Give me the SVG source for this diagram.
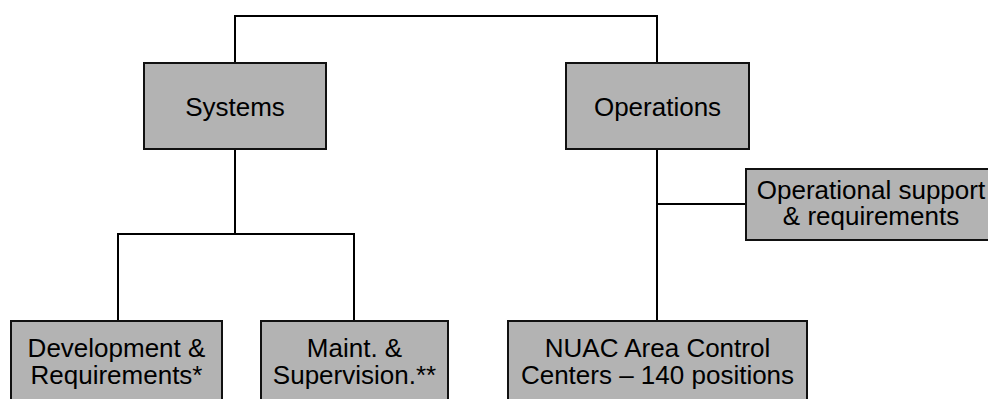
<svg xmlns="http://www.w3.org/2000/svg" width="988" height="399" viewBox="0 0 988 399">
  <style>
    .box { fill: #b3b3b3; stroke: #111111; stroke-width: 2; }
    .lbl { font-family: "Liberation Sans", Arial, sans-serif; font-size: 26px; fill: #000000; text-anchor: middle; }
    .wire { fill: none; stroke: #000000; stroke-width: 2; }
  </style>
  <rect width="988" height="399" fill="#ffffff"/>

  <!-- connectors -->
  <g id="connectors">
    <polyline class="wire" points="235,63 235,16 657,16 657,63"/>
    <line class="wire" x1="235" y1="149" x2="235" y2="234"/>
    <polyline class="wire" points="118,321 118,234 354,234 354,321"/>
    <line class="wire" x1="657" y1="149" x2="657" y2="321"/>
    <line class="wire" x1="657" y1="204" x2="746" y2="204"/>
  </g>

  <g id="systems">
    <rect class="box" x="144" y="63" width="182" height="86"/>
    <text class="lbl" x="235" y="116">Systems</text>
  </g>

  <g id="operations">
    <rect class="box" x="566" y="63" width="183" height="86"/>
    <text class="lbl" x="657.5" y="116">Operations</text>
  </g>

  <g id="operational-support">
    <rect class="box" x="746" y="169" width="252" height="71"/>
    <text class="lbl" x="871" y="199">Operational support</text>
    <text class="lbl" x="871" y="225">&amp; requirements</text>
  </g>

  <g id="development">
    <rect class="box" x="11" y="321" width="211" height="92"/>
    <text class="lbl" x="116.5" y="357">Development &amp;</text>
    <text class="lbl" x="116.5" y="384">Requirements*</text>
  </g>

  <g id="maintenance">
    <rect class="box" x="261" y="321" width="187" height="92"/>
    <text class="lbl" x="354.5" y="357">Maint. &amp;</text>
    <text class="lbl" x="354.5" y="384">Supervision.**</text>
  </g>

  <g id="nuac">
    <rect class="box" x="508" y="321" width="299" height="92"/>
    <text class="lbl" x="657.5" y="357">NUAC Area Control</text>
    <text class="lbl" x="657.5" y="384">Centers – 140 positions</text>
  </g>
</svg>
